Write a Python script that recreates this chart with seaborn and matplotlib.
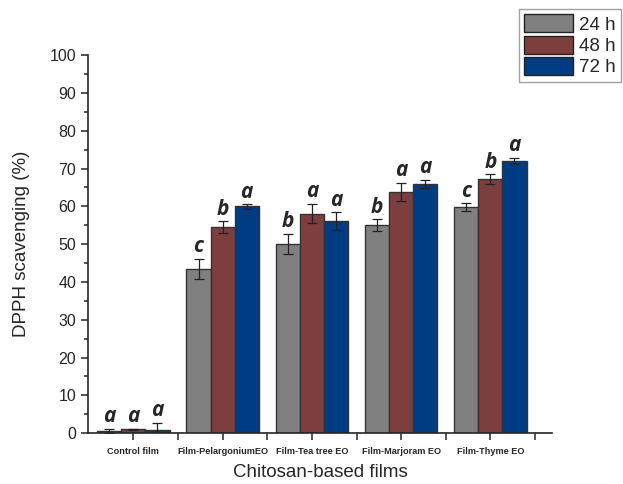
import numpy as np
import pandas as pd
import matplotlib
matplotlib.use('Agg')
import matplotlib.pyplot as plt
import seaborn as sns
from matplotlib.ticker import MultipleLocator, FixedLocator

# data
films = ['Control film', 'Film-PelargoniumEO', 'Film-Tea tree EO', 'Film-Marjoram EO', 'Film-Thyme EO']
times = ['24 h', '48 h', '72 h']
val_24 = [0.6, 43.5, 50.1, 55.0, 59.8]
val_48 = [1.0, 54.5, 58.1, 63.9, 67.2]
val_72 = [0.8, 60.0, 56.1, 65.9, 72.0]
err_24 = [0.6, 2.6, 2.6, 1.6, 1.0]
err_48 = [0.2, 1.6, 2.6, 2.4, 1.3]
err_72 = [2.0, 0.6, 2.4, 1.1, 0.8]
let_24 = ['a', 'c', 'b', 'b', 'c']
let_48 = ['a', 'b', 'a', 'a', 'b']
let_72 = ['a', 'a', 'a', 'a', 'a']

colors = ['#808080', '#7d3e3e', '#003c84']

rows = []
for t, v, e, l in zip(times, [val_24, val_48, val_72], [err_24, err_48, err_72], [let_24, let_48, let_72]):
    for f, vv, ee, ll in zip(films, v, e, l):
        rows.append({'Film': f, 'Time': t, 'DPPH': vv, 'err': ee, 'letter': ll})
df = pd.DataFrame(rows)

sns.set_style('ticks')
plt.rcParams['font.family'] = ['Liberation Sans', 'DejaVu Sans']

fig = plt.figure(figsize=(6.23, 4.84), dpi=100)
ax = fig.add_axes([0.141, 0.105, 0.745, 0.781])

sns.barplot(data=df, x='Film', y='DPPH', hue='Time', order=films, hue_order=times,
            palette=colors, saturation=1, width=0.81, edgecolor='#333333', linewidth=1.0,
            errorbar=None, ax=ax, legend=False)

# error bars and significance letters
for cont, t in zip(ax.containers, times):
    sub = df[df['Time'] == t].set_index('Film').loc[films]
    xs = [p.get_x() + p.get_width() / 2 for p in cont.patches]
    ax.errorbar(xs, sub['DPPH'], yerr=sub['err'], fmt='none', ecolor='#222222',
                elinewidth=0.9, capsize=3.5, capthick=0.9)
    for x, v, e, l in zip(xs, sub['DPPH'], sub['err'], sub['letter']):
        ax.text(x, v + e + 0.4, l, ha='center', va='bottom', fontsize=15,
                fontweight='bold', fontstyle='italic', family=['Open Sans', 'DejaVu Sans'])

ax.set_ylim(0, 100)
ax.set_xlim(-0.51, 4.69)
ax.yaxis.set_major_locator(MultipleLocator(10))
ax.yaxis.set_minor_locator(MultipleLocator(5))
ax.xaxis.set_minor_locator(FixedLocator([0.5, 1.5, 2.5, 3.5, 4.5]))
ax.tick_params(axis='y', which='major', direction='out', length=5, width=1.1, labelsize=11.5)
ax.tick_params(axis='y', which='minor', direction='out', length=3, width=1.1)
ax.tick_params(axis='x', which='major', direction='out', length=5, width=1.1, labelsize=6.6, pad=5)
ax.tick_params(axis='x', which='minor', direction='out', length=5, width=1.1)
for lab in ax.get_xticklabels():
    lab.set_fontweight('bold')
for sp in ['left', 'bottom']:
    ax.spines[sp].set_linewidth(1.2)
sns.despine(ax=ax)

ax.set_ylabel('DPPH scavenging (%)', fontsize=13.5, labelpad=14)
ax.set_xlabel('Chitosan-based films', fontsize=13.5, labelpad=6)

handles = [plt.Rectangle((0, 0), 1, 1, facecolor=c, edgecolor='#222222', linewidth=1.0) for c in colors]
leg = fig.legend(handles, times, loc='upper right', bbox_to_anchor=(0.997, 0.982),
                 fontsize=13.5, frameon=True, fancybox=False, handlelength=2.6, handleheight=1.1,
                 handletextpad=0.3, labelspacing=0.1, borderpad=0.3, borderaxespad=0)
leg.get_frame().set_edgecolor('#888888')
leg.get_frame().set_linewidth(1.0)

fig.savefig('out.png', dpi=100)
